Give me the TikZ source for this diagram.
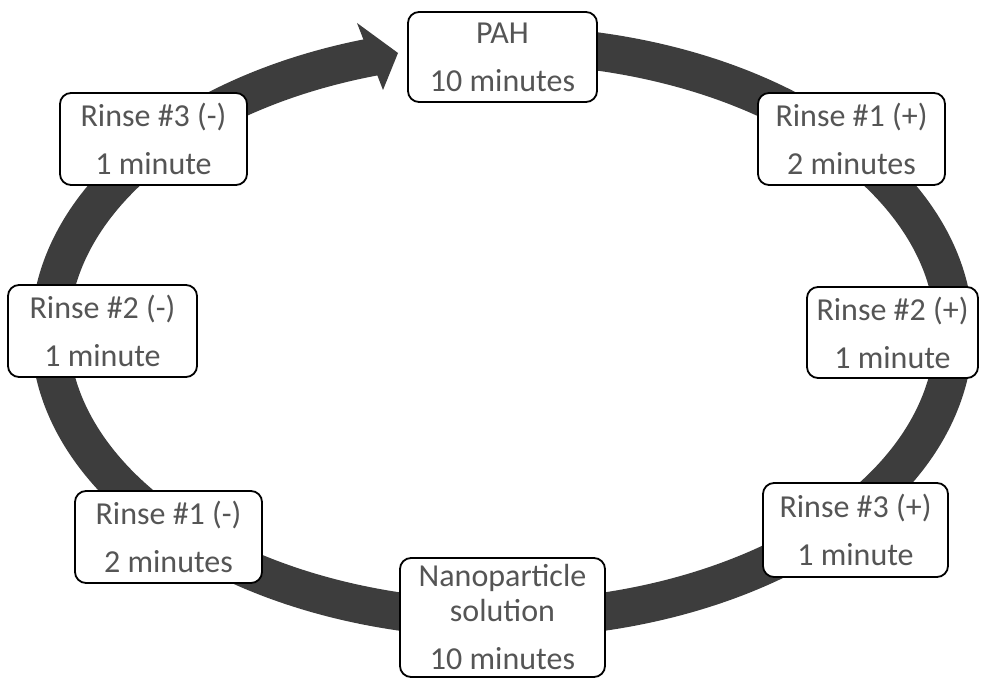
\documentclass[tikz,border=0pt]{standalone}
\usepackage{fontspec}
\setmainfont{Carlito}
\definecolor{bandgray}{HTML}{3D3D3D}
\definecolor{txtgray}{HTML}{555555}
\begin{document}
\begin{tikzpicture}[x=1pt,y=1pt,
  box/.style={draw=black, line width=1.8pt, rounded corners=11pt, fill=white,
    align=center, text=txtgray, font=\fontsize{32}{48}\selectfont, inner sep=0pt},
  band/.style={draw=bandgray, line width=38pt},
  headfill/.style={fill=bandgray}]
\useasboundingbox (0,0) rectangle (982,679);
\fill[white] (0,0) rectangle (982,679);
\coordinate (c) at (502,347);
% ring
\draw[band] ([shift={(80:452pt and 287pt)}]c) arc[start angle=80, end angle=-254, x radius=452pt, y radius=287pt];
% arrow head
\coordinate (h1) at (357,656);
\coordinate (h2) at (398,626);
\coordinate (h3) at (383,589);
\fill[headfill] (h1) -- (h2) -- (h3) -- cycle;
% boxes
\node[box, minimum width=189pt, minimum height=90pt] (pah) at (502.5,622) {PAH\\10 minutes};
\node[box, minimum width=187pt, minimum height=92pt] (r1p) at (851.5,540) {Rinse \#1 (+)\\2 minutes};
\node[box, minimum width=171pt, minimum height=91pt] (r2p) at (892.5,346.5) {Rinse \#2 (+)\\1 minute};
\node[box, minimum width=185pt, minimum height=94pt] (r3p) at (855.5,149) {Rinse \#3 (+)\\1 minute};
\node[box, minimum width=205pt, minimum height=119pt] (np) at (502.5,61.5) {Nanoparticle\\[-13pt]solution\\10 minutes};
\node[box, minimum width=187pt, minimum height=92pt] (r1m) at (168.5,142) {Rinse \#1 (-)\\2 minutes};
\node[box, minimum width=189pt, minimum height=92pt] (r2m) at (102.5,348) {Rinse \#2 (-)\\1 minute};
\node[box, minimum width=187pt, minimum height=92pt] (r3m) at (153.5,540) {Rinse \#3 (-)\\1 minute};
\end{tikzpicture}
\end{document}
